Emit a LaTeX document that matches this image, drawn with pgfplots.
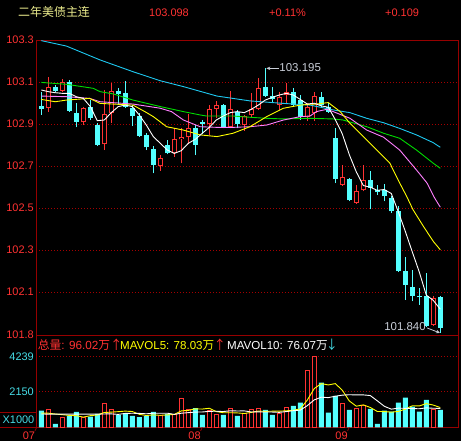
\documentclass[border=0pt]{standalone}
\usepackage{fontspec}
\setmainfont{Liberation Sans}
\newfontfamily\cjk{Noto Sans CJK SC}
\usepackage{pgfplots}
\pgfplotsset{compat=1.18}
\usepackage{pgfplotstable}
\usetikzlibrary{arrows.meta}

\definecolor{cred}{RGB}{255,50,50}
\definecolor{ccyan}{RGB}{84,255,255}
\definecolor{axred}{RGB}{150,0,0}
\definecolor{gridred}{RGB}{165,0,0}
\definecolor{maw}{RGB}{255,255,255}
\definecolor{may}{RGB}{255,255,0}
\definecolor{map}{RGB}{255,128,255}
\definecolor{mag}{RGB}{0,220,0}
\definecolor{mac}{RGB}{30,200,240}
\definecolor{hdr}{RGB}{235,235,140}
\definecolor{anno}{RGB}{200,205,215}
\definecolor{vcyan}{RGB}{70,220,230}

% up (red) candles
\pgfplotstableread{
i o h l c
2 102.975 103.122 102.959 103.075
4 103.059 103.113 103.054 103.098
7 102.908 102.983 102.895 102.975
10 102.803 103.062 102.776 102.948
11 102.951 103.094 102.903 103.056
18 102.702 102.752 102.678 102.737
20 102.760 102.879 102.744 102.827
21 102.827 102.879 102.713 102.840
22 102.836 102.948 102.805 102.879
25 102.900 102.990 102.848 102.970
26 102.973 103.010 102.927 102.989
28 102.884 103.057 102.879 102.970
30 102.895 102.943 102.868 102.938
31 102.943 103.046 102.930 102.970
32 102.971 103.121 102.967 103.070
35 102.990 103.054 102.967 103.030
36 103.038 103.094 102.998 103.054
39 102.935 102.998 102.914 102.983
40 102.951 103.051 102.914 103.033
44 102.611 102.706 102.606 102.647
46 102.524 102.611 102.520 102.579
47 102.584 102.706 102.579 102.635
57 101.944 102.079 101.936 102.071
}\upK

% down (cyan) candles
\pgfplotstableread{
i o h l c
1 102.986 103.050 102.945 102.973
3 103.078 103.086 103.054 103.059
5 103.101 103.110 102.959 102.963
6 102.954 102.998 102.884 102.910
8 102.979 103.014 102.919 102.927
9 102.895 102.903 102.795 102.800
12 103.059 103.070 102.990 103.041
13 103.049 103.106 102.975 102.983
14 102.978 102.990 102.890 102.938
15 102.938 102.951 102.840 102.844
16 102.848 102.859 102.776 102.789
17 102.783 102.795 102.665 102.706
19 102.798 102.824 102.757 102.760
23 102.879 102.895 102.752 102.800
24 102.911 102.919 102.852 102.900
27 102.989 102.994 102.879 102.884
29 102.959 102.967 102.879 102.898
33 103.078 103.165 103.030 103.033
34 103.033 103.078 103.006 103.017
37 103.054 103.073 102.983 102.990
38 103.014 103.038 102.919 102.935
41 103.030 103.054 102.983 102.990
42 102.983 102.998 102.954 102.959
43 102.832 102.879 102.618 102.638
45 102.638 102.643 102.531 102.536
48 102.635 102.674 102.495 102.597
49 102.584 102.611 102.563 102.574
50 102.584 102.616 102.531 102.555
51 102.548 102.555 102.476 102.484
52 102.484 102.508 102.195 102.198
53 102.198 102.267 102.063 102.135
54 102.124 102.206 102.055 102.082
55 102.079 102.119 102.040 102.074
56 102.079 102.190 101.933 101.936
58 102.074 102.079 101.905 101.929
}\downK

\pgfplotstableread{
i v
2 1050
4 610
7 610
10 1450
11 1050
18 690
20 750
21 1750
22 1090
25 990
26 750
28 1150
30 810
31 1090
32 1150
35 810
36 1210
39 3390
40 4290
44 1410
46 1110
47 1290
57 1050
}\upV

\pgfplotstableread{
i v
1 1010
3 210
5 700
6 930
8 650
9 810
12 750
13 810
14 690
15 610
16 690
17 930
19 810
23 1150
24 750
27 750
29 690
33 1050
34 750
37 1290
38 1490
41 2690
42 890
43 1890
45 1050
48 1110
49 210
50 1010
51 950
52 1490
53 1790
54 1250
55 950
56 1650
58 1050
}\downV

\pgfplotsset{
  ebar/.style 2 args={mark=none, draw=none, forget plot,
    error bars/.cd, y dir=plus, y explicit, error mark=none,
    error bar style={draw=#1, line width=#2}},
}

\begin{document}
\begin{tikzpicture}
\path[use as bounding box, fill=black] (0,0) rectangle (461bp,441bp);

% header
\node[anchor=base west, inner sep=0pt, text=hdr, font=\cjk\fontsize{12}{14}\selectfont] at (18bp,424.6bp) {二年美债主连};
\node[anchor=base west, inner sep=0pt, text=cred, font=\fontsize{11}{13}\selectfont] at (149bp,424.3bp) {103.098};
\node[anchor=base west, inner sep=0pt, text=cred, font=\fontsize{11}{13}\selectfont] at (269bp,424.3bp) {+0.11\%};
\node[anchor=base west, inner sep=0pt, text=cred, font=\fontsize{11}{13}\selectfont] at (385bp,424.3bp) {+0.109};

\begin{axis}[
  at={(36bp,106bp)}, anchor=south west, scale only axis,
  width=422bp, height=295bp,
  xmin=0.243, xmax=60.53, ymin=101.8952, ymax=103.3,
  axis line style={draw=axred, line width=0.8bp},
  xtick=\empty,
  ytick={102.1,102.3,102.5,102.7,102.9,103.1,103.3},
  yticklabels={102.1,102.3,102.5,102.7,102.9,103.1,103.3},
  extra y ticks={101.8952}, extra y tick labels={101.8},
  extra y tick style={grid=none},
  major tick length=0pt, tick style={draw=none},
  ymajorgrids, grid style={draw=gridred, line width=0.8bp, dash pattern=on 0.8bp off 2.2bp},
  yticklabel style={text=cred, font=\fontsize{11}{13}\selectfont, inner sep=0pt, xshift=-2bp},
  /pgf/number format/assume math mode=true,
]
% cyan candles
\addplot[ebar={ccyan}{1bp}]
  table[x=i, y=l, y error expr=\thisrow{h}-\thisrow{l}] {\downK};
\addplot[ebar={ccyan}{5bp}]
  table[x=i, y=c, y error expr={max(\thisrow{o}-\thisrow{c},0.005)}] {\downK};
% red candles
\addplot[ebar={cred}{1bp}]
  table[x=i, y=l, y error expr=\thisrow{o}-\thisrow{l}] {\upK};
\addplot[ebar={cred}{1bp}]
  table[x=i, y=c, y error expr=\thisrow{h}-\thisrow{c}] {\upK};
\addplot[ebar={cred}{5bp}]
  table[x=i, y=o, y error expr={max(\thisrow{c}-\thisrow{o},0.005)}] {\upK};
\addplot[ebar={black}{3bp}]
  table[x=i, y expr=\thisrow{o}+0.0048, y error expr={max(\thisrow{c}-\thisrow{o}-0.0096,0)}] {\upK};

% moving averages
\addplot[mac, line width=0.9bp, mark=none] coordinates {
(1,103.297) (4.6,103.271) (9.4,103.205) (14.1,103.149) (18,103.106) (21.3,103.078)
(26.1,103.033) (30.8,103.010) (35.6,102.998) (39.4,102.990) (42.7,102.967) (45.1,102.954)
(47.5,102.927) (49.9,102.906) (52.2,102.879) (54.6,102.848) (57,102.811) (58,102.789)};
\addplot[mag, line width=0.9bp, mark=none] coordinates {
(1,103.098) (4.6,103.089) (8.4,103.070) (9.4,103.054) (11.3,103.043) (14.1,103.014)
(18,102.983) (21.3,102.959) (23.7,102.943) (24.6,102.938) (28.4,102.938) (30.8,102.932)
(33.2,102.927) (35.6,102.924) (39.4,102.927) (42.7,102.924) (44.1,102.919) (47.5,102.887)
(49.9,102.856) (52.2,102.832) (54.6,102.776) (57,102.713) (58,102.689)};
\addplot[map, line width=0.9bp, mark=none] coordinates {
(1,103.033) (4.6,103.030) (7.9,103.022) (9.4,103.006) (14.1,102.995) (18,102.975)
(19.6,102.959) (21.3,102.919) (23.7,102.887) (26.1,102.884) (28.4,102.884) (30.8,102.887)
(33.2,102.895) (35.6,102.919) (38,102.935) (39.4,102.938) (40.3,102.959) (41.8,102.970)
(42.7,102.959) (45.1,102.927) (47.5,102.871) (49.9,102.837) (52.2,102.776) (54.6,102.681)
(56.1,102.619) (57.2,102.547) (58,102.504)};
\addplot[may, line width=0.9bp, mark=none] coordinates {
(1,103.017) (3,103.006) (4.6,103.014) (7.9,103.022) (9.4,102.998) (11.8,102.994)
(14.1,102.990) (16,102.955) (17,102.935) (18,102.910) (18.9,102.887) (21.3,102.871)
(23.7,102.848) (26.1,102.840) (28.4,102.856) (30.8,102.887) (33.2,102.935) (35.6,102.975)
(38,102.990) (39.4,102.994) (40.3,102.995) (42,103.002) (43.7,102.959) (45.1,102.903)
(47.5,102.824) (49.9,102.744) (50.8,102.713) (52.2,102.619) (53.2,102.555) (54.1,102.492)
(55.6,102.412) (57,102.341) (58,102.301)};
\addplot[maw, line width=0.9bp, mark=none] coordinates {
(1,103.062) (2,103.054) (3,103.049) (4,103.046) (5,103.046) (6,103.030) (7,103.022)
(8,102.983) (9,102.916) (10,102.919) (11,102.954) (12,102.983) (13,102.990) (14,102.983)
(15,102.943) (16,102.895) (17,102.840) (18,102.808) (19,102.776) (20,102.760) (21,102.773)
(22,102.808) (23,102.827) (24,102.856) (25,102.884) (26,102.919) (27,102.938) (28,102.954)
(29,102.959) (30,102.954) (31,102.970) (32,102.990) (33,103.014) (34,103.027) (35,103.038)
(36,103.046) (37,103.038) (38,103.017) (39,102.995) (40,102.999) (41,102.986) (42,102.980)
(43,102.921) (44,102.853) (45,102.754) (46,102.672) (47,102.607) (48,102.599) (49,102.584)
(50,102.588) (51,102.569) (52,102.482) (53,102.389) (54,102.291) (55,102.195) (56,102.085)
(57,102.060) (58,102.018)};

% annotations
\draw[anno, line width=0.8bp, -{Stealth[length=4bp,width=3.5bp]}] (axis cs:34.9,103.165) -- (axis cs:33.15,103.165);
\node[anchor=west, inner sep=0pt, text=anno, font=\fontsize{11.5}{13}\selectfont] at (axis cs:35.0,103.17) {103.195};
\node[anchor=east, inner sep=0pt, text=anno, font=\fontsize{11.5}{13}\selectfont] at (axis cs:55.95,101.936) {101.840};
\draw[anno, line width=0.8bp, -{Stealth[length=4bp,width=3.5bp]}] (axis cs:56.1,101.929) -- (axis cs:57.95,101.905);
\end{axis}

\begin{axis}[
  at={(36bp,13.7bp)}, anchor=south west, scale only axis,
  width=422bp, height=92.3bp,
  xmin=0.243, xmax=60.53, ymin=0, ymax=5556,
  clip=false,
  axis line style={draw=axred, line width=0.8bp},
  xtick={0.34,24,45}, xticklabels={07,08,09},
  xticklabel style={text=cred, font=\fontsize{11}{13}\selectfont, anchor=north east, inner sep=0pt, yshift=-4bp, xshift=-1.5bp},
  ytick={2150,4239}, yticklabels={2150,4239},
  yticklabel style={text=vcyan, font=\fontsize{11}{13}\selectfont, inner sep=0pt, xshift=-2bp},
  major tick length=0pt, tick style={draw=none},
  ymajorgrids, grid style={draw=gridred, line width=0.8bp, dash pattern=on 0.8bp off 2.2bp},
  /pgf/number format/assume math mode=true,
]
\addplot[ybar, bar width=5bp, bar shift=0pt, fill=ccyan, draw=none] table[x=i, y=v] {\downV};
\addplot[ybar, bar width=4bp, bar shift=0pt, fill=black, draw=cred, line width=1bp] table[x=i, y=v] {\upV};
\addplot[may, line width=0.9bp, mark=none] coordinates {
(1,850) (2,850) (3,800) (4,760) (5,716) (6,700) (7,612) (8,700) (9,740) (10,890)
(11,914) (12,942) (13,974) (14,950) (15,782) (16,710) (17,746) (18,722) (19,746) (20,774)
(21,986) (22,1018) (23,1110) (24,1098) (25,1146) (26,946) (27,878) (28,878) (29,866) (30,830)
(31,898) (32,978) (33,958) (34,970) (35,970) (36,994) (37,1022) (38,1110) (39,1638) (40,2334)
(41,2630) (42,2550) (43,2630) (44,2234) (45,1586) (46,1270) (47,1350) (48,1194) (49,954) (50,946)
(51,914) (52,954) (53,1090) (54,1298) (55,1286) (56,1426) (57,1338) (58,1190)};
\addplot[maw, line width=0.9bp, mark=none] coordinates {
(1,800) (3,790) (5,790) (7,790) (9,790) (10,803)
(11,807) (12,777) (13,837) (14,845) (15,837) (16,813) (17,845) (18,848) (19,848) (20,778)
(21,848) (22,882) (23,916) (24,922) (25,960) (26,966) (27,948) (28,994) (29,982) (30,988)
(31,922) (32,928) (33,918) (34,918) (35,900) (36,946) (37,1000) (38,1034) (39,1304) (40,1652)
(41,1812) (42,1786) (43,1870) (44,1936) (45,1960) (46,1950) (47,1950) (48,1912) (49,1594) (50,1266)
(51,1092) (52,1152) (53,1142) (54,1126) (55,1116) (56,1170) (57,1146) (58,1140)};
\draw[axred, line width=0.8bp] (axis cs:0.34,0) -- ++(0,-3.5bp);
\draw[axred, line width=0.8bp] (axis cs:24,0) -- ++(0,-3.5bp);
\draw[axred, line width=0.8bp] (axis cs:45,0) -- ++(0,-3.5bp);
\end{axis}

% volume panel extras
\draw[axred, line width=0.8bp] (0,28.3bp) -- (36bp,28.3bp);
\draw[axred, line width=0.8bp] (0,13.7bp) -- (36bp,13.7bp);
\node[anchor=east, inner sep=0pt, text=vcyan, font=\fontsize{11}{13}\selectfont] at (34.5bp,21.5bp) {X1000};

% volume legend
\node[anchor=base west, inner sep=0pt, text=cred, font=\fontsize{11.8}{13}\selectfont] at (37.7bp,91.6bp) {{\cjk 总量}: 96.02{\cjk 万}};
\node[anchor=base west, inner sep=0pt, text=cred, font=\cjk\fontsize{12.5}{14}\selectfont] at (109.8bp,91.2bp) {↑};
\node[anchor=base west, inner sep=0pt, text=may, font=\fontsize{11.6}{13}\selectfont] at (120bp,91.6bp) {MAVOL5: 78.03{\cjk 万}};
\node[anchor=base west, inner sep=0pt, text=cred, font=\cjk\fontsize{12.5}{14}\selectfont] at (213.5bp,91.2bp) {↑};
\node[anchor=base west, inner sep=0pt, text=white, font=\fontsize{11.6}{13}\selectfont] at (227bp,91.6bp) {MAVOL10: 76.07{\cjk 万}};
\node[anchor=base west, inner sep=0pt, text=vcyan, font=\cjk\fontsize{12.5}{14}\selectfont] at (325.5bp,91.2bp) {↓};
\end{tikzpicture}
\end{document}
